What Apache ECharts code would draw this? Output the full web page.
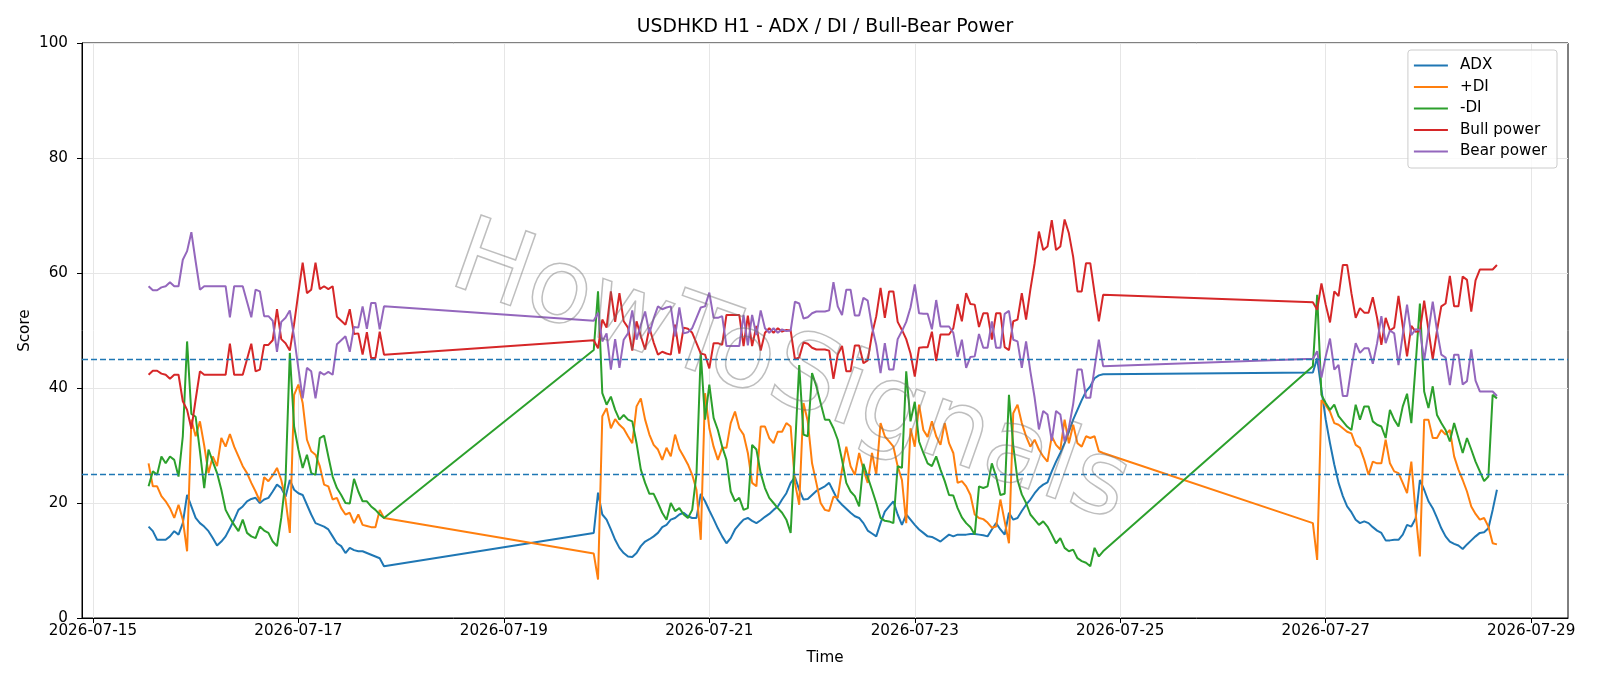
<!DOCTYPE html>
<html>
<head>
<meta charset="utf-8">
<title>USDHKD H1 - ADX / DI / Bull-Bear Power</title>
<script src="https://cdn.jsdelivr.net/npm/echarts@6/dist/echarts.min.js"></script>
<style>
html, body { margin: 0; padding: 0; background: #fff; }
#main { width: 1600px; height: 686px; }
</style>
</head>
<body>
<div id="main"></div>
<script>
// H1 bars, three trading sessions (weekend gaps are bridged by the line)
var sessionStart = ['2026-07-15T13:00:00', '2026-07-19T21:00:00', '2026-07-26T21:00:00'];
var sessionBars = [56, 120, 44];

var adx = [
    15.9, 15.1, 13.6, 13.6, 13.6, 14.2, 15.1, 14.5, 16.5, 21.4,
    19.4, 17.4, 16.5, 15.9, 15.1, 13.9, 12.6, 13.3, 14.2, 15.6,
    17.1, 18.8, 19.4, 20.3, 20.7, 20.9, 20.0, 20.6, 20.9, 22.0,
    23.2, 22.6, 21.1, 24.0, 22.3, 21.7, 21.4, 19.7, 18.0, 16.5,
    16.2, 15.9, 15.4, 14.2, 13.0, 12.5, 11.3, 12.2, 11.8, 11.6,
    11.6, 11.3, 11.0, 10.7, 10.4, 9.0,
    14.8, 21.8, 18.0, 17.1, 15.4, 13.6, 12.2, 11.3, 10.7, 10.6,
    11.3, 12.5, 13.3, 13.7, 14.2, 14.8, 15.8, 16.2, 17.1, 17.4,
    18.0, 18.3, 17.7, 17.4, 17.4, 21.6, 20.3, 18.7, 17.2, 15.6,
    14.2, 13.0, 13.9, 15.4, 16.3, 17.1, 17.4, 16.9, 16.5, 17.0,
    17.6, 18.1, 18.8, 19.4, 20.6, 21.7, 23.5, 24.5, 22.3, 20.6,
    20.7, 21.4, 22.1, 22.5, 22.9, 23.5, 22.0, 20.5, 19.7, 19.0,
    18.3, 17.7, 17.4, 16.5, 15.2, 14.7, 14.2, 16.5, 18.5, 19.4,
    20.3, 18.0, 16.2, 18.0, 17.1, 16.2, 15.4, 14.8, 14.2, 14.1,
    13.7, 13.3, 13.9, 14.5, 14.2, 14.5, 14.5, 14.5, 14.6, 14.6,
    14.5, 14.4, 14.2, 15.4, 16.5, 15.4, 14.5, 18.3, 17.1, 17.4,
    18.6, 19.7, 20.6, 21.7, 22.6, 23.2, 23.6, 25.5, 27.2, 28.7,
    30.4, 32.4, 34.5, 36.2, 37.9, 39.4, 40.3, 41.7, 42.2, 42.4,
    42.7, 45.2, 39.7, 34.5, 30.4, 26.7, 23.5, 21.2, 19.4, 18.4,
    17.1, 16.5, 16.8, 16.5, 15.8, 15.2, 14.8, 13.5, 13.5, 13.6,
    13.6, 14.5, 16.2, 15.9, 17.3, 24.0, 22.3, 20.3, 19.1, 17.4,
    15.6, 14.2, 13.3, 12.9, 12.6, 12.0, 12.8, 13.5, 14.2, 14.8,
    14.9, 15.6, 18.8, 22.3
];

var plusDi = [
    26.9, 22.9, 22.9, 21.2, 20.3, 19.1, 17.4, 19.7, 17.1, 11.6,
    34.5, 31.6, 34.2, 30.0, 25.2, 28.1, 26.4, 31.3, 29.8, 32.0,
    29.8, 28.1, 26.4, 25.2, 23.5, 22.0, 20.3, 24.5, 23.8, 24.8,
    26.1, 24.0, 20.6, 14.8, 38.8, 40.6, 37.4, 31.0, 29.0, 28.4,
    26.4, 23.2, 22.9, 20.6, 20.9, 19.1, 18.0, 18.3, 16.5, 18.0,
    16.2, 16.0, 15.8, 15.8, 18.8, 17.4,
    11.2, 6.7, 35.1, 36.5, 33.0, 34.6, 33.6, 32.9, 31.6, 30.4,
    36.8, 38.2, 34.5, 31.9, 30.1, 29.3, 27.5, 29.6, 28.1, 31.9,
    29.4, 28.1, 26.7, 24.9, 22.3, 13.6, 39.1, 33.0, 29.8, 27.5,
    29.6, 29.6, 33.9, 35.9, 33.0, 31.9, 28.7, 23.5, 22.9, 33.3,
    33.3, 31.3, 30.4, 32.4, 32.4, 33.9, 33.3, 23.5, 19.7, 37.4,
    34.2, 26.9, 23.5, 20.0, 18.8, 18.6, 21.1, 20.9, 25.8, 29.8,
    26.4, 24.9, 28.7, 25.8, 23.5, 28.7, 24.9, 33.9, 31.6, 30.7,
    29.8, 26.4, 24.0, 16.5, 33.0, 29.8, 37.1, 32.7, 31.5, 34.2,
    31.6, 30.1, 33.9, 30.4, 28.7, 23.5, 23.8, 22.9, 21.4, 18.0,
    17.4, 17.2, 16.6, 15.7, 15.9, 20.6, 16.8, 13.0, 35.6, 37.1,
    33.9, 31.6, 29.8, 31.0, 29.3, 28.1, 27.2, 31.6, 30.1, 29.3,
    34.5, 30.4, 33.6, 30.4, 29.8, 31.6, 31.3, 31.6, 29.0, 28.7,
    16.5, 10.1, 37.9, 37.0, 35.9, 33.9, 33.6, 33.0, 32.4, 32.1,
    30.1, 29.6, 27.5, 24.9, 27.2, 26.9, 26.9, 31.0, 26.9, 25.5,
    25.2, 23.5, 21.7, 27.2, 18.3, 10.7, 34.5, 34.5, 31.3, 31.3,
    32.7, 31.9, 32.7, 28.1, 25.8, 24.0, 22.0, 19.4, 18.1, 17.1,
    17.4, 15.9, 13.0, 12.8
];

var minusDi = [
    22.9, 25.5, 24.9, 28.1, 26.9, 28.1, 27.5, 24.6, 31.6, 48.1,
    35.5, 35.0, 29.0, 22.6, 29.3, 27.2, 25.2, 22.3, 18.8, 17.4,
    16.2, 15.1, 17.1, 14.8, 14.2, 13.9, 15.9, 15.2, 14.8, 13.3,
    12.5, 17.4, 24.0, 46.1, 33.3, 29.3, 26.1, 28.4, 25.2, 24.9,
    31.3, 31.7, 28.1, 24.6, 22.6, 21.4, 20.0, 19.9, 24.2, 22.0,
    20.3, 20.3, 19.4, 18.8, 18.0, 17.4,
    46.6, 56.8, 39.1, 37.1, 38.5, 36.2, 34.5, 35.3, 34.5, 34.2,
    30.4, 25.8, 23.5, 21.6, 21.6, 20.0, 18.3, 17.1, 20.0, 18.6,
    19.1, 18.0, 17.4, 18.8, 25.0, 46.1, 34.5, 40.6, 34.8, 32.7,
    29.8, 27.5, 22.0, 20.3, 20.9, 18.8, 19.1, 30.1, 29.3, 25.2,
    22.6, 20.9, 20.0, 19.1, 18.3, 17.1, 14.8, 29.3, 44.0, 31.9,
    31.6, 42.6, 40.3, 37.4, 34.5, 34.5, 33.0, 31.0, 27.5, 23.5,
    22.0, 21.2, 19.4, 26.8, 24.5, 22.3, 20.0, 17.4, 16.9, 16.8,
    16.5, 26.4, 26.1, 42.9, 34.2, 37.6, 30.7, 28.7, 26.9, 26.4,
    28.1, 25.8, 23.8, 21.4, 21.3, 19.1, 17.5, 16.5, 15.8, 14.5,
    22.9, 22.6, 22.9, 26.9, 24.6, 21.4, 21.6, 38.8, 30.0, 24.0,
    21.5, 20.0, 18.0, 17.1, 16.2, 16.8, 15.9, 14.5, 13.0, 13.9,
    12.2, 11.6, 11.9, 10.4, 9.9, 9.6, 9.0, 12.2, 10.7, 11.6,
    43.8, 56.2, 38.8, 37.4, 36.2, 37.1, 35.1, 34.2, 33.3, 32.7,
    37.1, 34.5, 36.8, 36.8, 34.2, 33.6, 33.3, 31.3, 36.2, 34.5,
    33.3, 36.8, 39.0, 33.9, 44.0, 54.7, 39.4, 36.5, 40.3, 35.3,
    33.9, 32.7, 30.7, 33.9, 31.3, 28.7, 31.3, 29.3, 27.2, 25.5,
    23.8, 24.6, 38.8, 38.2
];

var bullPower = [
    42.3, 43.0, 43.0, 42.5, 42.3, 41.6, 42.3, 42.3, 37.7, 36.2,
    32.9, 38.0, 42.9, 42.3, 42.3, 42.3, 42.3, 42.3, 42.3, 47.7,
    42.3, 42.3, 42.3, 45.0, 47.7, 42.9, 43.2, 47.5, 47.5, 48.3,
    53.7, 48.5, 47.8, 46.5, 51.1, 56.6, 61.8, 56.5, 57.1, 61.8,
    57.2, 57.7, 57.2, 57.7, 52.4, 51.7, 51.0, 53.7, 49.4, 49.5,
    45.8, 49.7, 45.2, 45.2, 49.8, 45.8,
    48.3, 46.9, 51.9, 50.5, 56.8, 51.5, 56.5, 51.6, 50.5, 46.5,
    51.6, 49.0, 46.7, 50.5, 47.9, 45.8, 46.3, 46.0, 45.8, 51.0,
    46.0, 50.5, 50.3, 49.6, 47.8, 46.0, 45.8, 43.4, 47.8, 47.8,
    47.5, 52.7, 52.7, 52.7, 52.7, 47.3, 52.6, 47.3, 50.8, 46.5,
    49.6, 50.4, 49.6, 50.4, 49.8, 50.1, 50.0, 45.0, 45.3, 47.9,
    47.7, 47.0, 46.7, 46.7, 46.7, 46.5, 41.6, 45.8, 47.3, 42.9,
    42.9, 47.4, 47.4, 44.3, 44.8, 49.3, 52.5, 57.4, 52.2, 56.8,
    56.8, 51.5, 50.1, 48.5, 46.0, 42.0, 47.0, 47.1, 47.1, 49.8,
    44.7, 49.3, 49.3, 49.3, 50.4, 54.6, 51.6, 56.5, 54.6, 54.5,
    50.6, 53.0, 53.0, 48.4, 53.0, 53.0, 47.1, 46.6, 51.6, 51.9,
    56.5, 51.9, 57.1, 61.7, 67.2, 64.0, 64.6, 69.2, 64.0, 64.6,
    69.3, 66.9, 62.8, 56.8, 56.8, 61.7, 61.7, 56.5, 51.6, 56.2,
    54.9, 53.6, 58.2, 54.5, 51.4, 56.8, 56.0, 61.4, 61.4, 56.5,
    52.2, 53.9, 53.1, 53.1, 55.8, 52.2, 47.5, 52.2, 50.0, 50.5,
    56.0, 50.7, 45.5, 50.8, 49.8, 49.9, 55.2, 50.1, 45.0, 50.0,
    54.2, 54.7, 59.5, 54.2, 54.2, 59.4, 58.8, 53.3, 58.7, 60.6,
    60.6, 60.6, 60.6, 61.4
];

var bearPower = [
    57.7, 57.0, 57.0, 57.5, 57.7, 58.4, 57.7, 57.7, 62.3, 63.8,
    67.1, 62.0, 57.1, 57.7, 57.7, 57.7, 57.7, 57.7, 57.7, 52.3,
    57.7, 57.7, 57.7, 55.0, 52.3, 57.1, 56.8, 52.5, 52.5, 51.7,
    46.3, 51.5, 52.2, 53.5, 48.9, 43.4, 38.2, 43.5, 42.9, 38.2,
    42.8, 42.3, 42.8, 42.3, 47.6, 48.3, 49.0, 46.3, 50.6, 50.5,
    54.2, 50.3, 54.8, 54.8, 50.2, 54.2,
    51.7, 53.1, 48.1, 49.5, 43.2, 48.5, 43.5, 48.4, 49.5, 53.5,
    48.4, 51.0, 53.3, 49.5, 52.1, 54.2, 53.7, 54.0, 54.2, 49.0,
    54.0, 49.5, 49.7, 50.4, 52.2, 54.0, 54.2, 56.6, 52.2, 52.2,
    52.5, 47.3, 47.3, 47.3, 47.3, 52.7, 47.4, 52.7, 49.2, 53.5,
    50.4, 49.6, 50.4, 49.6, 50.2, 49.9, 50.0, 55.0, 54.7, 52.1,
    52.3, 53.0, 53.3, 53.3, 53.3, 53.5, 58.4, 54.2, 52.7, 57.1,
    57.1, 52.6, 52.6, 55.7, 55.2, 50.7, 47.5, 42.6, 47.8, 43.2,
    43.2, 48.5, 49.9, 51.5, 54.0, 58.0, 53.0, 52.9, 52.9, 50.2,
    55.3, 50.7, 50.7, 50.7, 49.6, 45.4, 48.4, 43.5, 45.4, 45.5,
    49.4, 47.0, 47.0, 51.6, 47.0, 47.0, 52.9, 53.4, 48.4, 48.1,
    43.5, 48.1, 42.9, 38.3, 32.8, 36.0, 35.4, 30.8, 36.0, 35.4,
    30.7, 33.1, 37.2, 43.2, 43.2, 38.3, 38.3, 43.5, 48.4, 43.8,
    45.1, 46.4, 41.8, 45.5, 48.6, 43.2, 44.0, 38.6, 38.6, 43.5,
    47.8, 46.1, 46.9, 46.9, 44.2, 47.8, 52.5, 47.8, 50.0, 49.5,
    44.0, 49.3, 54.5, 49.2, 50.2, 50.1, 44.8, 49.9, 55.0, 50.0,
    45.8, 45.3, 40.5, 45.8, 45.8, 40.6, 41.2, 46.7, 41.3, 39.4,
    39.4, 39.4, 39.4, 38.6
];

var levels = [45, 25];
var tickDays = ['2026-07-15', '2026-07-17', '2026-07-19', '2026-07-21',
                '2026-07-23', '2026-07-25', '2026-07-27', '2026-07-29'];
var xRange = ['2026-07-14T21:27:00', '2026-07-29T08:36:00'];

// hourly timestamps for every bar
var times = [];
sessionStart.forEach(function (s, i) {
    var t0 = new Date(s).getTime();
    for (var k = 0; k < sessionBars[i]; k++) {
        times.push(t0 + k * 3600000);
    }
});

function pairs(values) {
    return values.map(function (v, i) { return [times[i], v]; });
}

function pad(n) { return n < 10 ? '0' + n : '' + n; }

var tickValues = tickDays.map(function (d) { return new Date(d + 'T00:00:00').getTime(); });
var font = 'DejaVu Sans';
var fs = 15.2;

var myChart = echarts.init(document.getElementById('main'));

function line(name, color, values, extra) {
    var s = {
        name: name,
        type: 'line',
        data: pairs(values),
        symbol: 'none',
        showSymbol: false,
        lineStyle: { color: color, width: 2 },
        itemStyle: { color: color },
        z: 3
    };
    if (extra) {
        for (var key in extra) s[key] = extra[key];
    }
    return s;
}

myChart.setOption({
    animation: false,
    textStyle: { fontFamily: font },
    grid: {
        left: 82, right: 32, top: 43, bottom: 68,
        show: true, borderColor: '#000', borderWidth: 1
    },
    legend: {
        orient: 'vertical',
        right: 43,
        top: 50,
        padding: [8, 10, 9, 6],
        icon: 'rect',
        itemWidth: 34,
        itemHeight: 2,
        itemGap: 6.5,
        backgroundColor: 'rgba(255,255,255,0.8)',
        borderColor: '#cccccc',
        borderWidth: 1,
        borderRadius: 3,
        textStyle: { fontSize: fs, color: '#000', fontFamily: font, padding: [0, 0, 0, 7] },
        data: ['ADX', '+DI', '-DI', 'Bull power', 'Bear power']
    },
    xAxis: {
        // timestamps on a plain value axis, labelled as dates
        type: 'value',
        min: new Date(xRange[0]).getTime(),
        max: new Date(xRange[1]).getTime(),
        name: 'Time',
        nameLocation: 'middle',
        nameGap: 33,
        nameTextStyle: { fontSize: fs, color: '#000', fontFamily: font },
        axisLine: { show: true, onZero: false, lineStyle: { color: '#000', width: 1 } },
        axisTick: { show: true, length: 5, customValues: tickValues, lineStyle: { color: '#000' } },
        axisLabel: {
            customValues: tickValues,
            margin: 5.5,
            fontSize: fs,
            color: '#000',
            fontFamily: font,
            formatter: function (v) {
                var d = new Date(v);
                return d.getFullYear() + '-' + pad(d.getMonth() + 1) + '-' + pad(d.getDate());
            }
        },
        splitLine: { show: true, lineStyle: { color: '#e6e6e6', width: 1 } }
    },
    yAxis: {
        type: 'value',
        min: 0,
        max: 100,
        interval: 20,
        axisLine: { show: true, lineStyle: { color: '#000', width: 1 } },
        axisTick: { show: true, length: 5, lineStyle: { color: '#000' } },
        axisLabel: { margin: 14, fontSize: fs, color: '#000', fontFamily: font },
        splitLine: { show: true, lineStyle: { color: '#e6e6e6', width: 1 } }
    },
    graphic: [
        {
            type: 'text',
            x: 825,
            y: 27.5,
            silent: true,
            style: {
                text: 'USDHKD H1 - ADX / DI / Bull-Bear Power',
                fontSize: 18.8,
                fontFamily: font,
                fill: '#000',
                align: 'center',
                verticalAlign: 'middle'
            }
        },
        {
            // y axis title
            type: 'text',
            x: 25.5,
            y: 330.6,
            rotation: Math.PI / 2,
            silent: true,
            style: {
                text: 'Score',
                fontSize: fs,
                fontFamily: font,
                fill: '#000',
                align: 'center',
                verticalAlign: 'middle'
            }
        },
        {
            type: 'text',
            x: 790,
            y: 376,
            rotation: -0.34,
            z: 100,
            silent: true,
            style: {
                text: 'HowToSignals',
                fontSize: 104,
                fontFamily: font,
                fill: 'rgba(255,255,255,0)',
                stroke: 'rgba(110,110,110,0.45)',
                lineWidth: 1.5,
                align: 'center',
                verticalAlign: 'middle'
            }
        }
    ],
    series: [
        line('ADX', '#1f77b4', adx, {
            markLine: {
                silent: true,
                symbol: ['none', 'none'],
                label: { show: false },
                lineStyle: { color: '#1f77b4', type: [6, 3], width: 1.3 },
                data: levels.map(function (v) { return { yAxis: v }; })
            }
        }),
        line('+DI', '#ff7f0e', plusDi),
        line('-DI', '#2ca02c', minusDi),
        line('Bull power', '#d62728', bullPower),
        line('Bear power', '#9467bd', bearPower)
    ]
});
</script>
</body>
</html>
